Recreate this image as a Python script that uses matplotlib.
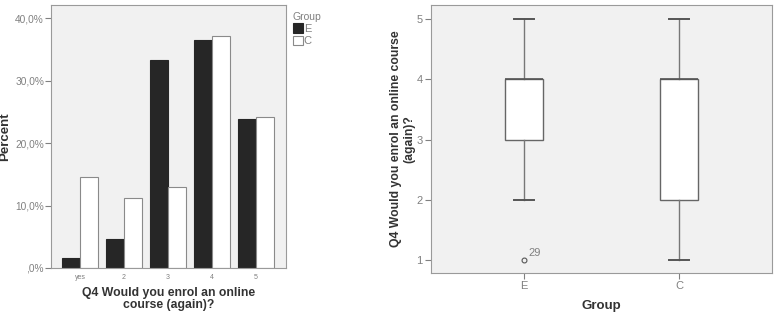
import matplotlib
matplotlib.use("Agg")
import matplotlib.pyplot as plt
from matplotlib.ticker import FuncFormatter
import numpy as np

plt.rcParams['font.family'] = ['Liberation Sans', 'DejaVu Sans']

# ---- data ----
categories = ["yes", "2", "3", "4", "5"]
groups = ["E", "C"]
pct_E = [1.6, 4.7, 33.3, 36.5, 23.8]
pct_C = [14.5, 11.2, 12.9, 37.1, 24.2]
y_ticks_pct = [0, 10, 20, 30, 40]

box_groups = ["E", "C"]
box_whislo = [2, 1]
box_q1 = [3, 2]
box_med = [4, 4]
box_q3 = [4, 4]
box_whishi = [5, 5]
outliers_E = [1]
outlier_labels_E = ["29"]

TICK_COL = "#808080"
LABEL_COL = "#333333"
FRAME_COL = "#9a9a9a"
BG = "#f1f1f1"

fig = plt.figure(figsize=(7.77, 3.16), dpi=100)

# ---- left: bar chart ----
ax1 = fig.add_axes([0.0656, 0.152, 0.3024, 0.832])
ax1.set_facecolor(BG)
x = np.arange(len(categories))
w = 0.41
ax1.bar(x - w / 2, pct_E, width=w, color="#262626", edgecolor="#262626", linewidth=0.8, label="E")
ax1.bar(x + w / 2, pct_C, width=w, color="white", edgecolor="#8a8a8a", linewidth=0.8, label="C")
ax1.set_xlim(-0.66, 4.68)
ax1.set_ylim(0, 42.1)
ax1.set_yticks(y_ticks_pct)
ax1.yaxis.set_major_formatter(FuncFormatter(lambda v, p: (",0%" if v == 0 else f"{v:.1f}%".replace(".", ","))))
ax1.set_xticks(x)
ax1.set_xticklabels(categories, fontsize=5, color=TICK_COL)
ax1.tick_params(axis="y", labelsize=7.3, colors=TICK_COL, length=4, width=0.8, pad=1)
ax1.tick_params(axis="x", length=0, pad=4)
for s in ax1.spines.values():
    s.set_color(FRAME_COL)
    s.set_linewidth(0.8)
ax1.set_xlabel("Q4 Would you enrol an online\ncourse (again)?", fontsize=8.8, fontweight="bold",
               color=LABEL_COL, labelpad=5, linespacing=0.95)
ax1.set_ylabel("Percent", fontsize=9.5, fontweight="bold", color=LABEL_COL)
ax1.yaxis.set_label_coords(-0.17, 0.5)
leg = ax1.legend(title="Group", loc="upper left", bbox_to_anchor=(1.0, 1.0), frameon=False,
                 fontsize=8, title_fontsize=7.5, handlelength=0.9, handleheight=0.9,
                 handletextpad=0.1, labelspacing=0.15, borderaxespad=0.2)
leg.get_title().set_color(TICK_COL)
for t in leg.get_texts():
    t.set_color(TICK_COL)
leg._legend_box.align = "left"

# ---- right: boxplot ----
ax2 = fig.add_axes([0.5547, 0.136, 0.4389, 0.848])
ax2.set_facecolor(BG)
stats = []
for i, g in enumerate(box_groups):
    stats.append(dict(label=g, whislo=box_whislo[i], q1=box_q1[i], med=box_med[i],
                      q3=box_q3[i], whishi=box_whishi[i], fliers=[]))
pos = np.arange(1, len(box_groups) + 1)
ax2.bxp(stats, positions=pos, widths=0.25, patch_artist=True, showfliers=False,
        boxprops=dict(facecolor="white", edgecolor="#666666", linewidth=1.0),
        whiskerprops=dict(color="#777777", linewidth=1.0),
        capprops=dict(color="#555555", linewidth=1.4),
        medianprops=dict(color="#555555", linewidth=1.2),
        capwidths=0.13)
ax2.plot([pos[0]] * len(outliers_E), outliers_E, marker="o", markersize=3.5, markerfacecolor="none",
         markeredgecolor="#555555", markeredgewidth=0.8, linestyle="none")
for v, lab in zip(outliers_E, outlier_labels_E):
    ax2.annotate(lab, (pos[0], v), xytext=(3, 3), textcoords="offset points",
                 fontsize=8, color=TICK_COL)
ax2.set_xlim(0.40, 2.60)
ax2.set_ylim(0.79, 5.23)
ax2.set_yticks([1, 2, 3, 4, 5])
ax2.set_xticks(pos)
ax2.set_xticklabels(box_groups)
ax2.tick_params(axis="both", labelsize=8, colors=TICK_COL, length=4, width=0.8, pad=2)
for s in ax2.spines.values():
    s.set_color(FRAME_COL)
    s.set_linewidth(0.8)
ax2.set_xlabel("Group", fontsize=9.5, fontweight="bold", color=LABEL_COL, labelpad=6)
ax2.set_ylabel("Q4 Would you enrol an online course\n(again)?", fontsize=8.8, fontweight="bold",
               color=LABEL_COL, linespacing=1.15)
ax2.yaxis.set_label_coords(-0.045, 0.5)

fig.savefig("out.png", dpi=100, facecolor="white")
